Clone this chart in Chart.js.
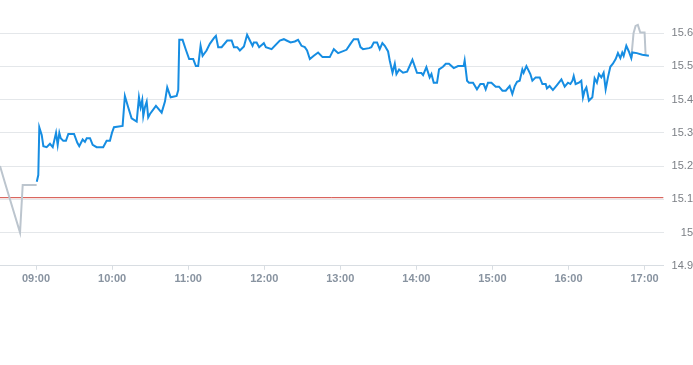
<!DOCTYPE html>
<html>
<head>
<meta charset="utf-8">
<script src="https://cdn.jsdelivr.net/npm/chart.js@4.4.1/dist/chart.umd.min.js"></script>
<style>
  html,body{margin:0;padding:0;background:#fff;}
  #wrap{width:693px;height:289px;position:relative;}
</style>
</head>
<body>
<div id="wrap"><canvas id="priceChart"></canvas></div>
<script>
// times are minutes after midnight
const xTickLabels = ['09:00','10:00','11:00','12:00','13:00','14:00','15:00','16:00','17:00'];
const yTickValues = [14.9, 15.0, 15.1, 15.2, 15.3, 15.4, 15.5, 15.6];
const prevClose = 15.105;

const preTimes  = [511.6, 515.5, 527.4, 529.5, 540.5];
const preValues = [15.20, 15.15, 15.00, 15.143, 15.143];

const postTimes  = [1009.5, 1011.3, 1012.9, 1014.7, 1016.6, 1020.0, 1020.8];
const postValues = [15.525, 15.600, 15.622, 15.625, 15.602, 15.602, 15.535];

const dayTimes = [
  540.6, 541.8, 542.6, 544.5, 545.8, 548.4, 551.0, 553.2, 555.8, 557.1,
  558.4, 559.5, 561.5, 563.6, 565.5, 570.0, 572.6, 574.1, 576.8, 578.6,
  580.0, 582.6, 584.7, 587.8, 593.0, 595.7, 598.3, 599.9, 601.5, 608.3,
  610.1, 612.7, 615.4, 619.4, 621.2, 622.5, 623.8, 624.6, 625.9, 627.3,
  628.5, 629.9, 634.6, 639.1, 641.7, 643.5, 646.2, 650.9, 652.2, 653.0,
  655.6, 658.2, 660.8, 664.0, 666.1, 667.9, 669.8, 671.4, 674.5, 677.1,
  680.3, 681.9, 683.7, 686.4, 690.8, 694.3, 696.1, 698.7, 700.8, 704.0,
  706.5, 708.7, 710.8, 711.8, 714.0, 716.0, 719.7, 721.3, 725.8, 732.3,
  735.5, 737.6, 740.8, 744.1, 746.7, 749.4, 752.0, 753.8, 756.0, 759.1,
  762.5, 766.0, 771.7, 774.9, 778.3, 784.9, 788.0, 790.6, 794.0, 795.9,
  797.9, 802.7, 804.5, 806.4, 809.0, 811.1, 813.2, 815.1, 817.7, 819.0,
  821.2, 823.0, 824.3, 826.4, 829.5, 832.7, 836.9, 840.5, 844.0, 845.3,
  847.9, 850.5, 851.9, 853.7, 856.3, 857.9, 861.0, 863.2, 865.7, 869.5,
  872.9, 877.3, 878.1, 880.0, 881.5, 884.7, 887.8, 890.5, 893.1, 894.7,
  896.5, 899.2, 902.6, 905.2, 907.9, 910.5, 913.6, 915.7, 917.6, 919.4,
  921.5, 923.6, 924.6, 926.8, 929.9, 931.5, 934.1, 937.3, 939.4, 942.0,
  943.0, 945.1, 947.7, 950.9, 954.4, 957.0, 959.6, 961.5, 963.1, 964.1,
  965.6, 968.2, 970.1, 971.4, 972.7, 974.1, 976.1, 978.8, 980.6, 982.4,
  984.0, 985.9, 987.7, 989.3, 991.1, 993.0, 995.0, 997.2, 999.0, 1000.9,
  1002.4, 1003.5, 1005.6, 1007.6, 1009.5, 1010.3, 1013.9, 1018.2, 1023.4
];
const dayValues = [
  15.153, 15.173, 15.317, 15.294, 15.260, 15.257, 15.267, 15.257, 15.300, 15.264,
  15.300, 15.284, 15.276, 15.276, 15.297, 15.297, 15.270, 15.260, 15.280, 15.273,
  15.284, 15.284, 15.264, 15.257, 15.257, 15.276, 15.276, 15.300, 15.317, 15.321,
  15.411, 15.377, 15.344, 15.334, 15.407, 15.377, 15.399, 15.351, 15.377, 15.394,
  15.347, 15.357, 15.381, 15.361, 15.394, 15.437, 15.407, 15.411, 15.429, 15.580,
  15.580, 15.550, 15.522, 15.522, 15.501, 15.501, 15.562, 15.532, 15.548, 15.568,
  15.585, 15.592, 15.558, 15.558, 15.578, 15.578, 15.558, 15.558, 15.548, 15.560,
  15.595, 15.578, 15.562, 15.572, 15.572, 15.558, 15.570, 15.558, 15.552, 15.578,
  15.582, 15.578, 15.572, 15.575, 15.580, 15.562, 15.558, 15.548, 15.522, 15.532,
  15.542, 15.528, 15.528, 15.552, 15.540, 15.550, 15.568, 15.582, 15.582, 15.558,
  15.552, 15.555, 15.558, 15.572, 15.572, 15.552, 15.570, 15.562, 15.545, 15.518,
  15.481, 15.508, 15.477, 15.491, 15.481, 15.484, 15.520, 15.481, 15.480, 15.474,
  15.498, 15.467, 15.477, 15.451, 15.451, 15.491, 15.499, 15.508, 15.508, 15.495,
  15.501, 15.501, 15.518, 15.457, 15.451, 15.451, 15.431, 15.447, 15.447, 15.431,
  15.451, 15.451, 15.439, 15.439, 15.427, 15.427, 15.441, 15.417, 15.441, 15.454,
  15.457, 15.491, 15.481, 15.501, 15.477, 15.457, 15.467, 15.467, 15.447, 15.447,
  15.434, 15.441, 15.429, 15.444, 15.461, 15.439, 15.451, 15.447, 15.457, 15.471,
  15.447, 15.451, 15.457, 15.407, 15.427, 15.437, 15.397, 15.407, 15.464, 15.451,
  15.477, 15.467, 15.481, 15.431, 15.467, 15.499, 15.508, 15.522, 15.540, 15.525,
  15.542, 15.532, 15.562, 15.545, 15.525, 15.542, 15.540, 15.535, 15.532
];

const xMin = 511.6, xMax = 1035;
const yMin = 14.9, yMax = 15.668;

const toMin = s => { const [h, m] = s.split(':').map(Number); return h * 60 + m; };
const pts = (ts, vs) => ts.map((t, i) => ({ x: t, y: vs[i] }));

new Chart(document.getElementById('priceChart'), {
  type: 'line',
  data: {
    datasets: [
      { data: pts(dayTimes, dayValues), borderColor: '#168de2', borderWidth: 2 },
      { data: pts(postTimes, postValues), borderColor: '#bcc5ce', borderWidth: 2 },
      { data: pts(preTimes, preValues), borderColor: '#bcc5ce', borderWidth: 2 },
      { data: [{ x: xMin, y: prevClose }, { x: xMax, y: prevClose }], borderColor: '#d2473f', borderWidth: 1 }
    ]
  },
  options: {
    responsive: true,
    maintainAspectRatio: false,
    animation: false,
    layout: { padding: 0 },
    elements: { point: { radius: 0 }, line: { tension: 0, fill: false } },
    plugins: { legend: { display: false }, tooltip: { enabled: false } },
    scales: {
      x: {
        type: 'linear',
        min: xMin,
        max: xMax,
        afterBuildTicks: s => { s.ticks = xTickLabels.map(l => ({ value: toMin(l) })); },
        grid: { drawOnChartArea: false, drawTicks: true, tickLength: 4, color: '#d8dde2' },
        border: { display: true, color: '#d8dde2' },
        ticks: {
          padding: 3,
          maxRotation: 0,
          autoSkip: false,
          color: '#8893a0',
          font: { family: 'Liberation Sans, Arial, sans-serif', size: 11, weight: 'bold' },
          callback: v => { const h = Math.floor(v / 60), m = v % 60; return String(h).padStart(2, '0') + ':' + String(m).padStart(2, '0'); }
        }
      },
      y: {
        position: 'right',
        min: yMin,
        max: yMax,
        afterBuildTicks: s => { s.ticks = yTickValues.map(v => ({ value: v })); },
        grid: { drawTicks: false, color: '#e4e7ea' },
        border: { display: false },
        ticks: {
          padding: 4,
          crossAlign: 'far',
          color: '#7b7f85',
          font: { family: 'Liberation Sans, Arial, sans-serif', size: 11 },
          callback: v => String(+v.toFixed(1))
        }
      }
    }
  }
});
</script>
</body>
</html>
